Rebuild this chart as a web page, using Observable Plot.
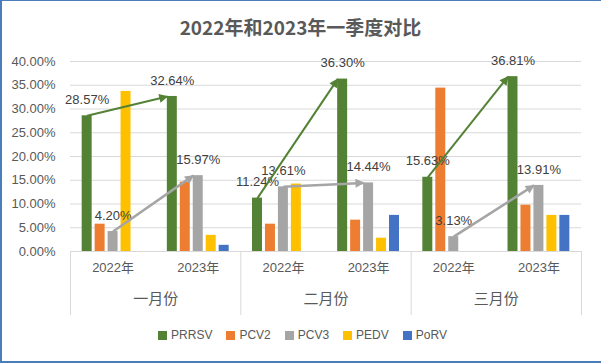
<!DOCTYPE html>
<html>
<head>
<meta charset="utf-8">
<script src="https://cdn.jsdelivr.net/npm/d3@7"></script>
<script src="https://cdn.jsdelivr.net/npm/@observablehq/plot@0.6"></script>
<style>
  html, body { margin: 0; padding: 0; background: #fff; }
  #wrap { position: relative; width: 601px; height: 363px; overflow: hidden;
          font-family: 'Liberation Sans', 'Noto Sans CJK SC', sans-serif; }
  #frame { position: absolute; left: 0; top: 0; width: 601px; height: 363px; box-sizing: border-box;
           border-left: 2px solid #4a7ebb; border-top: 1px solid #4a7ebb; border-bottom: 2px solid #4a7ebb;
           pointer-events: none; z-index: 3; }
  #title { position: absolute; left: 0; width: 601px; top: 13px; text-align: center;
           font-family: 'Noto Sans CJK SC', sans-serif; font-weight: bold; font-size: 19px; color: #595959; z-index: 2; line-height: 28px; }
  #legend { position: absolute; left: 0; width: 601px; top: 328px; display: flex; justify-content: center;
            font-size: 12px; color: #595959; z-index: 2; padding-left: 4px; box-sizing: border-box; }
  .item { display: flex; align-items: center; margin: 0 7px; }
  .sw { width: 9px; height: 9px; margin-right: 4px; }
  #chart { position: absolute; left: 0; top: 0; }
</style>
</head>
<body>
<div id="wrap">
  <div id="chart"></div>
  <div id="title"></div>
  <div id="legend"></div>
  <div id="frame"></div>
</div>
<script>
// ---- data ----
const titleText = "2022年和2023年一季度对比";
const months = ["一月份", "二月份", "三月份"];
const years = ["2022年", "2023年"];
const series = ["PRRSV", "PCV2", "PCV3", "PEDV", "PoRV"];
const colors = ["#548235", "#ED7D31", "#A5A5A5", "#FFC000", "#4472C4"];
const yTicks = [0, 5, 10, 15, 20, 25, 30, 35, 40];
const labeledSeries = ["PRRSV", "PCV3"];
const trendSeries = ["PRRSV", "PCV3"];
const trendColors = ["#548235", "#A5A5A5"];

// values (%), ordered as series: PRRSV, PCV2, PCV3, PEDV, PoRV
const jan2022 = [28.57, 5.75, 4.20, 33.7, 0];
const jan2023 = [32.64, 14.6, 15.97, 3.4, 1.3];
const feb2022 = [11.24, 5.75, 13.61, 14.2, 0];
const feb2023 = [36.30, 6.6, 14.44, 2.8, 7.6];
const mar2022 = [15.63, 34.4, 3.13, 0, 0];
const mar2023 = [36.81, 9.75, 13.91, 7.6, 7.6];

const valuesByMonth = [[jan2022, jan2023], [feb2022, feb2023], [mar2022, mar2023]];

// ---- table ----
const rows = [];
months.forEach((m, mi) => years.forEach((y, yi) => series.forEach((s, si) => {
  rows.push({month: m, year: y, series: s, slot: mi * 2 + yi, value: valuesByMonth[mi][yi][si]});
})));

const inner = d3.scaleBand().domain(series).range([0, 1]).paddingInner(0.23).paddingOuter(0.9);
const bw = inner.bandwidth();

const slots = [];
months.forEach((m, mi) => years.forEach((y, yi) => slots.push({month: m, year: y, slot: mi * 2 + yi})));
const monthRows = months.map((m, mi) => ({month: m, center: mi * 2 + 1}));
const boundaries = d3.range(0, months.length * 2 + 1, 2);

const trends = [];
months.forEach((m, mi) => trendSeries.forEach(s => {
  const si = series.indexOf(s);
  trends.push({
    series: s,
    x1: mi * 2 + inner(s) + bw / 2, y1: valuesByMonth[mi][0][si],
    x2: mi * 2 + 1 + inner(s), y2: valuesByMonth[mi][1][si]
  });
}));

const font = "'Liberation Sans', 'Noto Sans CJK SC', sans-serif";

const chart = Plot.plot({
  width: 601, height: 363,
  marginTop: 61, marginBottom: 112, marginLeft: 70, marginRight: 20,
  style: {fontFamily: font, fontSize: "13px", color: "#595959", background: "transparent", overflow: "visible"},
  x: {domain: [0, 6], axis: null},
  y: {domain: [0, 40], ticks: yTicks, tickFormat: d => d.toFixed(2) + "%", tickSize: 0, tickPadding: 15, label: null},
  color: {domain: series, range: colors},
  marks: [
    Plot.ruleY(yTicks, {stroke: "#d9d9d9", strokeWidth: 1}),
    Plot.ruleX(boundaries, {stroke: "#d9d9d9", insetTop: 190, insetBottom: -64}),
    Plot.rectY(rows.filter(d => d.value > 0), {
      x1: d => d.slot + inner(d.series),
      x2: d => d.slot + inner(d.series) + bw,
      y1: 0, y2: "value", fill: "series"
    }),
    Plot.text(rows.filter(d => labeledSeries.includes(d.series)), {
      x: d => d.slot + inner(d.series) + bw / 2, y: "value",
      text: d => d.value.toFixed(2) + "%", dy: -16, fontSize: 13, fill: "#404040"
    }),
    ...trendSeries.map((s, i) => Plot.link(trends.filter(d => d.series === s), {
      x1: "x1", y1: "y1", x2: "x2", y2: "y2", stroke: trendColors[i], strokeWidth: i === 0 ? 2 : 2.5
    })),
    Plot.text(slots, {x: d => d.slot + 0.5, text: "year", frameAnchor: "bottom", dy: 20.5, fontSize: 13, fill: "#595959"}),
    Plot.text(monthRows, {x: "center", text: "month", frameAnchor: "bottom", dy: 52, fontSize: 15, fill: "#595959"})
  ]
});
document.getElementById("chart").appendChild(chart);

// filled triangular arrow heads on the trend links
const svg = d3.select(chart);
const defs = svg.append("defs");
trendColors.forEach((c, i) => {
  const id = "head-" + i;
  defs.append("marker").attr("id", id)
    .attr("viewBox", "0 0 10 10").attr("refX", 9).attr("refY", 5)
    .attr("markerWidth", 10).attr("markerHeight", 9).attr("markerUnits", "userSpaceOnUse")
    .attr("orient", "auto")
    .append("path").attr("d", "M0,0L10,5L0,10Z").attr("fill", c);
  svg.selectAll("g").filter(function() {
    const st = (this.getAttribute("stroke") || "").toLowerCase();
    return st === c.toLowerCase();
  }).selectAll("path").attr("marker-end", `url(#${id})`);
});

document.getElementById("title").textContent = titleText;
const legend = d3.select("#legend");
series.forEach((s, i) => {
  const it = legend.append("div").attr("class", "item");
  it.append("div").attr("class", "sw").style("background", colors[i]);
  it.append("span").text(s);
});
</script>
</body>
</html>
